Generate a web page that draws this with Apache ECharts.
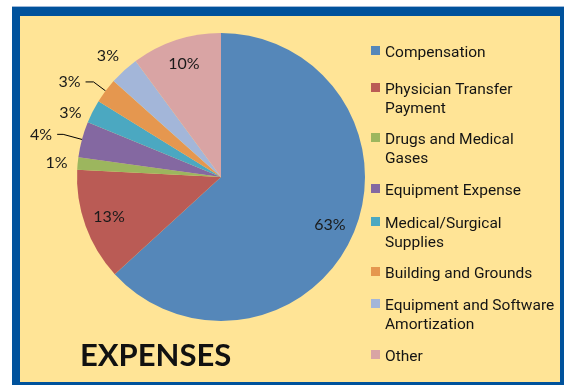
<!DOCTYPE html>
<html><head><meta charset="utf-8">
<script src="https://cdn.jsdelivr.net/npm/echarts@6/dist/echarts.min.js"></script>
<style>
html,body{margin:0;padding:0;background:#fff;width:564px;height:385px;overflow:hidden}
#frame{position:absolute;left:12px;top:7px;width:540px;height:366px;background:#FFE496;border-style:solid;border-color:#00529C;border-width:9px 4px 3px 8px;box-shadow:0 -1px 0 #9DB8D9;}
#chart{position:absolute;left:0;top:0;width:564px;height:385px}
</style></head>
<body><div id="frame"></div><div id="chart"></div>
<script>
const categories = ['Compensation','Physician Transfer Payment','Drugs and Medical Gases','Equipment Expense','Medical/Surgical Supplies','Building and Grounds','Equipment and Software Amortization','Other'];
const values = [63.2, 12.6, 1.4, 4.0, 2.6, 2.8, 3.3, 10.1];
const legendLabels = ['Compensation','Physician Transfer\nPayment','Drugs and Medical\nGases','Equipment Expense','Medical/Surgical\nSupplies','Building and Grounds','Equipment and Software\nAmortization','Other'];
const titleText = 'EXPENSES';

const colors = ['#5587B9','#BA5B55','#9CB65E','#8468A1','#4BA8C1','#E5974F','#A3B6D9','#D9A4A4'];

// label placement per slice (style, not data)
const labelCfg = [
  {position:'inside'},
  {position:'inside'},
  {position:'outside', line:false, len:5, len2:0},
  {position:'outside', line:true, len:19.5, len2:6},
  {position:'outside', line:false, len:-2, len2:8},
  {position:'outside', line:true, len:15, len2:8},
  {position:'outside', line:false, len:19.5, len2:-13},
  {position:'inside'}
];
// icon tops of the legend entries
const iconTops = [46, 83, 133, 184, 217, 267, 299, 350];

const mainData = categories.map((c,i)=>({name:c, value:values[i], itemStyle:{color:colors[i]}}));
const labelData = categories.map((c,i)=>{
  const cfg = labelCfg[i];
  const d = {name:c, value:values[i], itemStyle:{color:'rgba(0,0,0,0)'}, label:{position:cfg.position}};
  if (cfg.position === 'outside') {
    d.labelLine = {show:cfg.line, length:cfg.len, length2:cfg.len2};
  }
  return d;
});

const LH = 19;
const IH = 15; // icon box: 9x9 square at the top of a 9x15 box
const legends = categories.map((c,i)=>{
  const multi = legendLabels[i].indexOf('\n') >= 0;
  const txt = multi ? '\n' + legendLabels[i] : legendLabels[i];
  const lines = txt.split('\n').length;
  const off = Math.max(0, lines * LH / 2 - IH / 2);
  return {
    orient:'vertical', left:371, top: iconTops[i] - off, padding:0,
    itemWidth:9, itemHeight:IH, icon:'path://M0,0H9V9H0Z M0,15L9,15', selectedMode:false,
    data:[c],
    formatter: () => txt,
    textStyle:{fontFamily:'Roboto', fontSize:15.5, lineHeight:LH, color:'#141414'}
  };
});

const chart = echarts.init(document.getElementById('chart'), null, {renderer:'canvas'});
chart.setOption({
  backgroundColor:'transparent',
  animation:false,
  title:{text:titleText, left:80, top:340, padding:0,
    textStyle:{fontFamily:'Lato', fontWeight:'bold', fontSize:31, color:'#111'}},
  legend: legends,
  series:[
    {type:'pie', center:[221,177], radius:[0,144], startAngle:90, clockwise:true,
     data:mainData, label:{show:false}, labelLine:{show:false}, silent:true,
     itemStyle:{borderWidth:0}},
    {type:'pie', center:[221,177], radius:[88,144], startAngle:90, clockwise:true,
     data:labelData, silent:true, avoidLabelOverlap:false,
     label:{show:true, position:'inside', formatter:p=>Math.round(p.percent)+'%',
       fontFamily:'Lato', fontSize:16, color:'#1a1a1a', distanceToLabelLine:5},
     labelLine:{show:true, lineStyle:{color:'#000', width:1}},
     itemStyle:{borderWidth:0}}
  ]
});
</script>
</body></html>
